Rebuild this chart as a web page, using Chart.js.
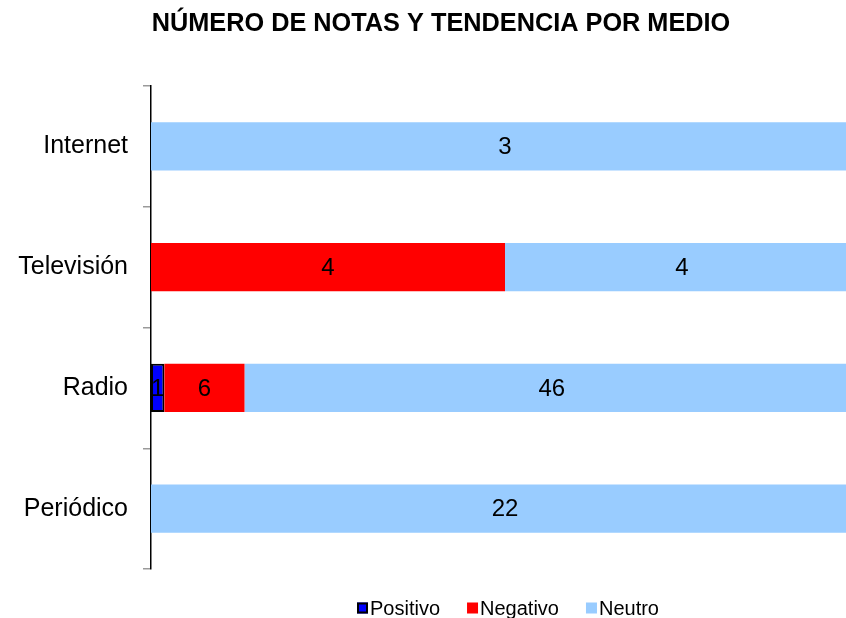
<!DOCTYPE html>
<html lang="es">
<head>
    <meta charset="UTF-8">
    <title>Número de notas y tendencia por medio</title>
    <style>
        html, body { margin: 0; padding: 0; background: #fff; overflow: hidden; }
        canvas { display: block; }
    </style>
</head>
<body>
    <!-- el grafico original sigue un poco mas alla del borde derecho -->
    <canvas id="grafica" width="859" height="618"></canvas>

    <script src="https://cdn.jsdelivr.net/npm/chart.js"></script>
    <script>
        // datos del grafico
        const medios = ['Internet', 'Televisión', 'Radio', 'Periódico'];
        const positivo = [0, 0, 1, 0];
        const negativo = [0, 4, 6, 0];
        const neutro = [3, 4, 46, 22];
        const titulo = 'NÚMERO DE NOTAS Y TENDENCIA POR MEDIO';

        const fuente = '"Liberation Sans", Arial, Helvetica, sans-serif';

        // 100% apilado: cada barra en porcentaje del total del medio
        const totales = medios.map((m, i) => positivo[i] + negativo[i] + neutro[i]);
        const pct = arr => arr.map((v, i) => totales[i] ? v / totales[i] * 100 : 0);

        const series = [
            { label: 'Positivo', counts: positivo, color: '#0000FF', borde: 2 },
            { label: 'Negativo', counts: negativo, color: '#FF0000', borde: 0 },
            { label: 'Neutro', counts: neutro, color: '#99CCFF', borde: 0 }
        ];

        // numeros dentro de las barras, titulo y leyenda
        const extras = {
            id: 'extras',
            afterDatasetsDraw(chart) {
                const ctx = chart.ctx;
                ctx.save();
                ctx.font = '24px ' + fuente;
                ctx.fillStyle = '#000';
                ctx.textAlign = 'center';
                ctx.textBaseline = 'middle';
                chart.data.datasets.forEach((ds, d) => {
                    const meta = chart.getDatasetMeta(d);
                    meta.data.forEach((bar, i) => {
                        const n = ds.counts[i];
                        if (!n) return;
                        const p = bar.getCenterPoint();
                        ctx.fillText(String(n), p.x, p.y + 1);
                    });
                });
                ctx.restore();
            },
            afterDraw(chart) {
                const ctx = chart.ctx;
                ctx.save();
                // titulo
                ctx.font = 'bold 25.3px ' + fuente;
                ctx.fillStyle = '#000';
                ctx.textAlign = 'center';
                ctx.textBaseline = 'middle';
                ctx.fillText(titulo, 441, 24);

                // leyenda
                ctx.font = '20px ' + fuente;
                ctx.textAlign = 'left';
                const caja = 11, sep = 2, hueco = 27;
                const anchos = chart.data.datasets.map(ds => caja + sep + ctx.measureText(ds.label).width);
                const total = anchos.reduce((a, b) => a + b, 0) + hueco * (anchos.length - 1);
                let x = 508 - total / 2;
                const y = 608;
                chart.data.datasets.forEach((ds, d) => {
                    ctx.fillStyle = ds.backgroundColor;
                    ctx.fillRect(x, y - caja / 2, caja, caja);
                    if (ds.borderWidth) {
                        ctx.strokeStyle = '#000';
                        ctx.lineWidth = 2;
                        ctx.strokeRect(x + 1, y - caja / 2 + 1, caja - 2, caja - 2);
                    }
                    ctx.fillStyle = '#000';
                    ctx.fillText(ds.label, x + caja + sep, y + 1);
                    x += anchos[d] + hueco;
                });
                ctx.restore();
            }
        };

        new Chart(document.getElementById('grafica'), {
            type: 'bar',
            data: {
                labels: medios,
                datasets: series.map(s => ({
                    label: s.label,
                    counts: s.counts,
                    data: pct(s.counts),
                    backgroundColor: s.color,
                    borderColor: '#000',
                    borderWidth: s.borde,
                    borderSkipped: false,
                    categoryPercentage: 1,
                    barPercentage: 0.4
                }))
            },
            options: {
                indexAxis: 'y',
                responsive: false,
                animation: false,
                layout: { padding: { top: 86, bottom: 49, left: 0, right: 0 } },
                plugins: {
                    legend: { display: false },
                    title: { display: false },
                    tooltip: { enabled: false }
                },
                scales: {
                    x: {
                        stacked: true,
                        min: 0,
                        max: 100,
                        display: false
                    },
                    y: {
                        stacked: true,
                        afterFit(scale) { scale.width = 151; },
                        border: { display: true, color: '#000', width: 1.5 },
                        grid: {
                            drawOnChartArea: false,
                            drawTicks: true,
                            tickLength: 8,
                            color: '#9a9a9a',
                            lineWidth: 1.5
                        },
                        ticks: {
                            color: '#000',
                            padding: 15,
                            font: { family: fuente, size: 25 }
                        }
                    }
                }
            },
            plugins: [extras]
        });
    </script>
</body>
</html>
